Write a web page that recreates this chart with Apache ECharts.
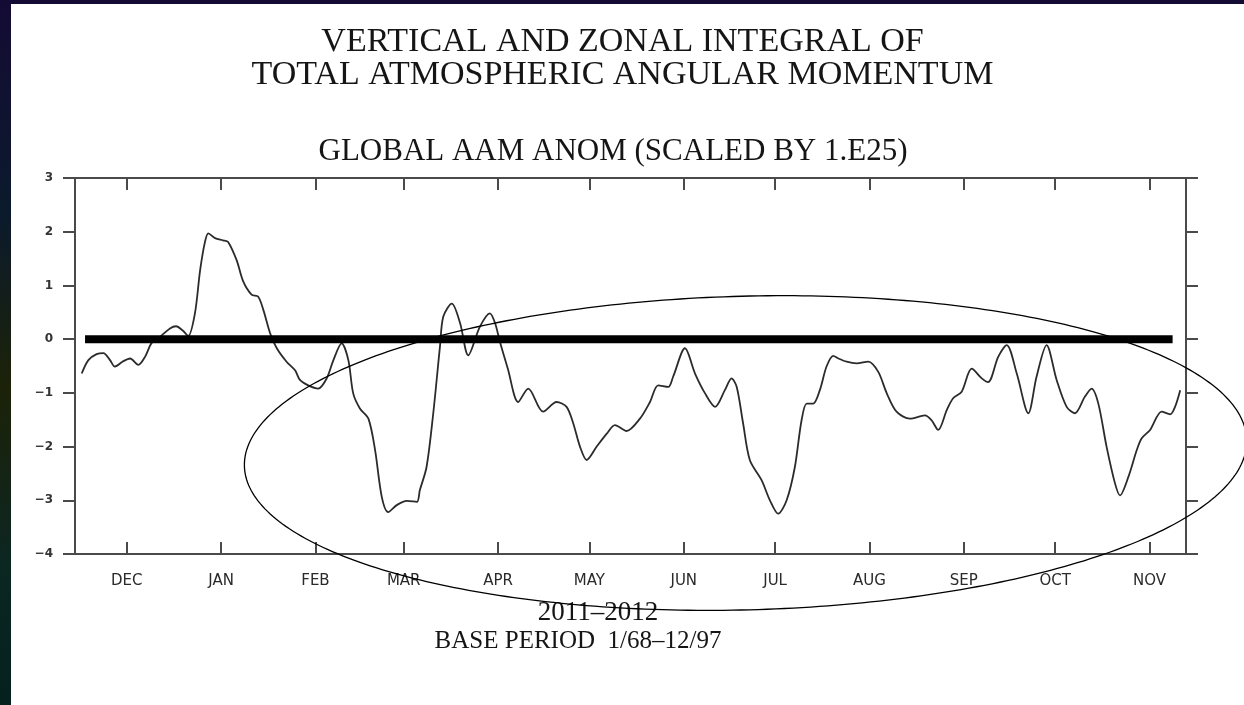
<!DOCTYPE html>
<html>
<head>
<meta charset="utf-8">
<script src="https://cdn.jsdelivr.net/npm/echarts@6/dist/echarts.min.js"></script>
<style>
  html, body { margin: 0; padding: 0; width: 1244px; height: 705px; overflow: hidden;
    background: linear-gradient(180deg, #140b34 0%, #0b1a2c 30%, #1c2208 55%, #0c2622 80%, #06201e 100%); }
  #chart { position: absolute; left: 11px; top: 4px; width: 1233px; height: 701px; background: #ffffff; }
</style>
</head>
<body>
<div id="chart"></div>
<script>
// ---- DATA (days since 14 Nov 2011, AAM anomaly scaled by 1e25) ----
const DAYS = [2.2,4.4,7.1,9.3,11.5,13.1,15.9,18.1,20.8,23.0,25.2,27.9,31.2,33.2,35.4,37.2,39.4,41.1,42.7,43.8,46.0,48.6,50.3,53.1,55.3,58.0,60.2,61.9,64.1,66.3,69.5,72.3,73.9,76.6,79.9,82.7,84.9,87.6,89.8,91.4,93.6,96.4,98.6,100.8,102.9,105.7,109.0,112.3,113.3,115.5,117.7,119.9,121.0,123.8,126.5,129.2,133.0,136.3,138.0,139.6,142.2,145.6,148.9,153.8,158.2,161.5,163.7,165.9,168.1,171.4,174.7,177.4,181.2,185.6,188.9,191.6,194.9,196.5,200.4,203.7,207.0,210.3,213.5,215.7,217.4,219.5,221.7,225.6,228.3,231.0,233.8,236.5,238.7,240.4,242.5,244.7,246.9,249.1,250.8,253.5,256.8,260.6,263.9,266.7,269.9,274.3,279.2,281.4,283.6,286.4,288.5,291.3,294.6,297.9,300.0,303.3,306.1,309.4,313.2,315.9,319.2,322.5,325.8,328.5,331.8,334.0,336.2,338.9,341.7,343.3,346.1,348.8,350.4,353.2,357.0,359.8,361.4,363.1];
const AAM = [-0.64,-0.39,-0.28,-0.26,-0.39,-0.51,-0.41,-0.36,-0.48,-0.33,-0.07,0.04,0.20,0.24,0.16,0.06,0.48,1.28,1.81,1.97,1.88,1.84,1.81,1.47,1.07,0.83,0.79,0.54,0.11,-0.17,-0.42,-0.58,-0.76,-0.86,-0.92,-0.73,-0.39,-0.08,-0.39,-1.01,-1.29,-1.48,-2.07,-2.94,-3.22,-3.09,-3.01,-3.03,-2.81,-2.38,-1.38,-0.14,0.42,0.66,0.30,-0.30,0.23,0.48,0.30,-0.05,-0.55,-1.17,-0.92,-1.35,-1.17,-1.26,-1.57,-2.0,-2.25,-2.0,-1.76,-1.60,-1.71,-1.48,-1.17,-0.86,-0.89,-0.70,-0.17,-0.64,-1.01,-1.26,-0.95,-0.73,-0.89,-1.57,-2.25,-2.63,-3.0,-3.25,-3.0,-2.38,-1.51,-1.20,-1.20,-0.95,-0.51,-0.31,-0.36,-0.42,-0.45,-0.42,-0.61,-1.01,-1.35,-1.48,-1.42,-1.51,-1.69,-1.32,-1.10,-0.98,-0.55,-0.73,-0.80,-0.33,-0.11,-0.64,-1.38,-0.70,-0.11,-0.76,-1.26,-1.38,-1.07,-0.92,-1.20,-2.0,-2.69,-2.91,-2.56,-2.07,-1.85,-1.69,-1.35,-1.40,-1.26,-0.95];
const MONTHS = ['DEC','JAN','FEB','MAR','APR','MAY','JUN','JUL','AUG','SEP','OCT','NOV'];
const MONTH_TICK_DAYS = [17,48,79,108,139,169,200,230,261,292,322,353];
const Y_TICKS = [-4,-3,-2,-1,0,1,2,3];
// annotations (data units)
const ZERO_BAR = [[3.3, 0], [360.6, 0]];
const ELLIPSE = [[220.3, -2.12, 164.7, 2.92, 1.5]]; // centerDay, centerVal, semiDays, semiVal, rotationDeg

const chart = echarts.init(document.getElementById('chart'), null, { renderer: 'canvas' });
const AX = '#4a4a4a';
const option = {
  animation: false,
  backgroundColor: '#ffffff',
  grid: { left: 64, top: 174, width: 1111, height: 376, containLabel: false },
  xAxis: [
    { type: 'value', min: 0, max: 365, position: 'bottom',
      axisLine: { show: true, onZero: false, lineStyle: { color: AX, width: 2 } },
      axisTick: { show: true, inside: true, length: 12, customValues: MONTH_TICK_DAYS, lineStyle: { color: AX, width: 2 } },
      axisLabel: { show: true, customValues: MONTH_TICK_DAYS, margin: 20,
        formatter: v => MONTHS[MONTH_TICK_DAYS.indexOf(v)] || '',
        fontFamily: 'DejaVu Sans', fontSize: 15, color: '#2a2a2a' },
      splitLine: { show: false } },
    { type: 'value', min: 0, max: 365, position: 'top',
      axisLine: { show: true, onZero: false, lineStyle: { color: AX, width: 2 } },
      axisTick: { show: true, inside: true, length: 12, customValues: MONTH_TICK_DAYS, lineStyle: { color: AX, width: 2 } },
      axisLabel: { show: false }, splitLine: { show: false } }
  ],
  yAxis: [
    { type: 'value', min: -4, max: 3, interval: 1, position: 'left',
      axisLine: { show: true, onZero: false, lineStyle: { color: AX, width: 2 } },
      axisTick: { show: true, inside: false, length: 12, lineStyle: { color: AX, width: 2 } },
      axisLabel: { margin: 22, fontFamily: 'DejaVu Sans', fontWeight: 'bold', fontSize: 12, color: '#333',
        formatter: v => String(v).replace('-', '\u2212') },
      splitLine: { show: false } },
    { type: 'value', min: -4, max: 3, interval: 1, position: 'right',
      axisLine: { show: true, onZero: false, lineStyle: { color: AX, width: 2 } },
      axisTick: { show: true, inside: false, length: 12, lineStyle: { color: AX, width: 2 } },
      axisLabel: { show: false }, splitLine: { show: false } }
  ],
  graphic: [
    { type: 'text', x: 611.5, y: 38.5, style: { text: 'VERTICAL AND ZONAL INTEGRAL OF', font: '34px "Liberation Serif"', fill: '#151515', textAlign: 'center', textVerticalAlign: 'middle' } },
    { type: 'text', x: 611.5, y: 71, style: { text: 'TOTAL ATMOSPHERIC ANGULAR MOMENTUM', font: '34px "Liberation Serif"', fill: '#151515', textAlign: 'center', textVerticalAlign: 'middle' } },
    { type: 'text', x: 602, y: 147.5, style: { text: 'GLOBAL AAM ANOM (SCALED BY 1.E25)', font: '31px "Liberation Serif"', fill: '#151515', textAlign: 'center', textVerticalAlign: 'middle' } },
    { type: 'text', x: 587, y: 608.5, style: { text: '2011\u20132012', font: '27px "Liberation Serif"', fill: '#151515', textAlign: 'center', textVerticalAlign: 'middle' } },
    { type: 'text', x: 567, y: 637, style: { text: 'BASE PERIOD  1/68\u201312/97', font: '25px "Liberation Serif"', fill: '#151515', textAlign: 'center', textVerticalAlign: 'middle' } }
  ],
  series: [
    { type: 'line', name: 'AAM', xAxisIndex: 0, yAxisIndex: 0,
      data: DAYS.map((d, i) => [d, AAM[i]]),
      smooth: 0.3, showSymbol: false, lineStyle: { color: '#2b2b2b', width: 1.8 }, z: 2 },
    { type: 'line', name: 'zero', xAxisIndex: 0, yAxisIndex: 0, data: ZERO_BAR,
      showSymbol: false, lineStyle: { color: '#000', width: 8, cap: 'butt' }, z: 3 },
    { type: 'custom', name: 'ellipse', xAxisIndex: 0, yAxisIndex: 0, clip: false, z: 4,
      data: ELLIPSE,
      renderItem: function (params, api) {
        const c = api.coord([api.value(0), api.value(1)]);
        const ref = api.coord([api.value(0) + api.value(2), api.value(1) + api.value(3)]);
        const a = Math.abs(ref[0] - c[0]);
        const b = Math.abs(ref[1] - c[1]);
        const phi = api.value(4) * Math.PI / 180;
        const pts = [];
        for (let k = 0; k <= 360; k++) {
          const t = k * Math.PI / 180;
          const ex = a * Math.cos(t), ey = b * Math.sin(t);
          pts.push([c[0] + ex * Math.cos(phi) - ey * Math.sin(phi), c[1] - (ex * Math.sin(phi) + ey * Math.cos(phi))]);
        }
        return { type: 'polyline', shape: { points: pts }, style: { stroke: '#000', fill: null, lineWidth: 1.3 } };
      } }
  ]
};
chart.setOption(option);
</script>
</body>
</html>
